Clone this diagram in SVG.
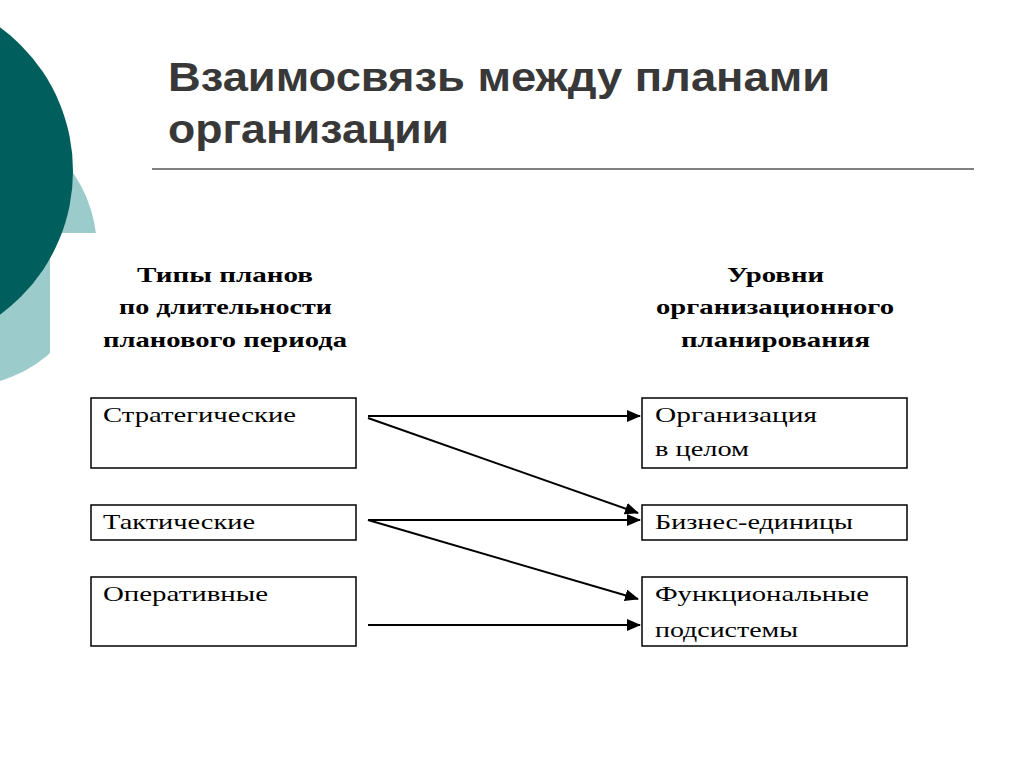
<svg xmlns="http://www.w3.org/2000/svg" width="1024" height="767" viewBox="0 0 1024 767">
<style>
.t{font-family:"Liberation Serif",serif;font-size:22px;fill:#000}
.h{font-family:"Liberation Serif",serif;font-size:22px;font-weight:bold;fill:#000}
.b{fill:#fff;stroke:#000;stroke-width:1.5}
.c{stroke:#000;stroke-width:2;fill:none;marker-end:url(#a)}
</style>
<defs><marker id="a" markerWidth="14" markerHeight="12" refX="13" refY="6" orient="auto" markerUnits="userSpaceOnUse"><path d="M0,0L14,6L0,12z" fill="#000"/></marker></defs>
<rect width="1024" height="767" fill="#fff"/>
<g id="deco">
<circle cx="-40" cy="250" r="137" fill="#9ccbcb"/>
<rect x="50" y="233" width="100" height="200" fill="#fff"/>
<circle cx="-105" cy="171" r="178" fill="#005f5c"/>
</g>
<g id="title" font-family="Liberation Sans,Arial,sans-serif" font-size="40" font-weight="bold" fill="#383838">
<text x="168" y="91" textLength="662" lengthAdjust="spacingAndGlyphs">Взаимосвязь между планами</text>
<text x="168" y="143" textLength="281" lengthAdjust="spacingAndGlyphs">организации</text>
</g>
<line x1="152" y1="169" x2="974" y2="169" stroke="#000" stroke-width="1"/>
<g id="headL">
<text class="h" x="137" y="282" textLength="176" lengthAdjust="spacingAndGlyphs">Типы планов</text>
<text class="h" x="119" y="314" textLength="213" lengthAdjust="spacingAndGlyphs">по длительности</text>
<text class="h" x="103" y="347" textLength="244" lengthAdjust="spacingAndGlyphs">планового периода</text></g>
<g id="headR">
<text class="h" x="727" y="282" textLength="97" lengthAdjust="spacingAndGlyphs">Уровни</text>
<text class="h" x="656" y="314" textLength="238" lengthAdjust="spacingAndGlyphs">организационного</text>
<text class="h" x="681" y="347" textLength="189" lengthAdjust="spacingAndGlyphs">планирования</text></g>
<g id="n1"><rect class="b" x="91" y="398" width="265" height="70"/><text class="t" x="103" y="422" textLength="193" lengthAdjust="spacingAndGlyphs">Стратегические</text></g>
<g id="n2"><rect class="b" x="91" y="505" width="265" height="35"/><text class="t" x="103" y="529" textLength="152" lengthAdjust="spacingAndGlyphs">Тактические</text></g>
<g id="n3"><rect class="b" x="91" y="577" width="265" height="69"/><text class="t" x="103" y="601" textLength="165" lengthAdjust="spacingAndGlyphs">Оперативные</text></g>
<g id="n4"><rect class="b" x="642" y="398" width="265" height="70"/><text class="t" x="655" y="422" textLength="162" lengthAdjust="spacingAndGlyphs">Организация</text><text class="t" x="655" y="456" textLength="94" lengthAdjust="spacingAndGlyphs">в целом</text></g>
<g id="n5"><rect class="b" x="642" y="505" width="265" height="35"/><text class="t" x="655" y="529" textLength="198" lengthAdjust="spacingAndGlyphs">Бизнес-единицы</text></g>
<g id="n6"><rect class="b" x="642" y="577" width="265" height="69"/><text class="t" x="655" y="601" textLength="214" lengthAdjust="spacingAndGlyphs">Функциональные</text><text class="t" x="655" y="637" textLength="143" lengthAdjust="spacingAndGlyphs">подсистемы</text></g>
<g id="connectors">
<line class="c" x1="368" y1="416" x2="640" y2="416"/>
<line class="c" x1="368" y1="418" x2="638" y2="513"/>
<line class="c" x1="368" y1="520" x2="640" y2="520"/>
<line class="c" x1="368" y1="520" x2="638" y2="599"/>
<line class="c" x1="368" y1="625" x2="640" y2="625"/>
</g>
</svg>
